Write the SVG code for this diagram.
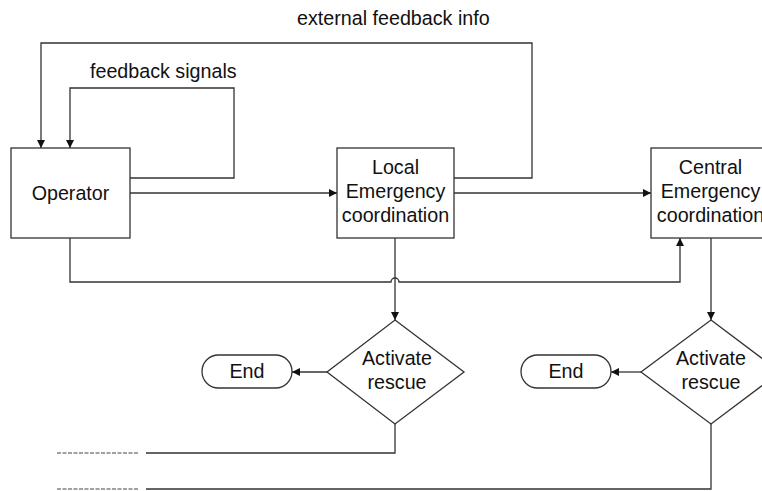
<svg xmlns="http://www.w3.org/2000/svg" width="762" height="491" viewBox="0 0 762 491">
<style>
.s{fill:#fff;stroke:#333;stroke-width:1.3}
.c{fill:none;stroke:#333;stroke-width:1.3}
.d{fill:none;stroke:#444;stroke-width:1.2;stroke-dasharray:4 1.5}
text{font-family:"Liberation Sans",Arial,sans-serif;font-size:19.7px;fill:#111;text-anchor:middle}
.l{text-anchor:start}
</style>
<defs>
<marker id="a" viewBox="0 0 10 10" refX="10" refY="5" markerWidth="8" markerHeight="8" markerUnits="userSpaceOnUse" orient="auto">
<path d="M0,0 L10,5 L0,10 z" fill="#111"/>
</marker>
</defs>
<g id="connectors">
<path class="c" d="M130,178 H234 V88 H70 V148" marker-end="url(#a)"/>
<path class="c" d="M454,178 H532 V43 H41 V148" marker-end="url(#a)"/>
<path class="c" d="M130,193 H337" marker-end="url(#a)"/>
<path class="c" d="M454,193 H651" marker-end="url(#a)"/>
<path class="c" d="M70,238 V282 H391 A4,4 0 0 1 399,282 H680 V238" marker-end="url(#a)"/>
<path class="c" d="M395,238 V320" marker-end="url(#a)"/>
<path class="c" d="M711,238 V320" marker-end="url(#a)"/>
<path class="c" d="M327,372 H292" marker-end="url(#a)"/>
<path class="c" d="M641,372 H611" marker-end="url(#a)"/>
<path class="c" d="M395,424 V453 H146"/>
<path class="c" d="M711,424 V489 H146"/>
<path class="d" d="M57,453 H138 M57,489 H138"/>
</g>
<text class="l" x="297" y="25">external feedback info</text>
<text class="l" x="90" y="78">feedback signals</text>
<g id="operator">
<rect class="s" x="11" y="148" width="119" height="90"/>
<text x="70.5" y="200">Operator</text>
</g>
<g id="local">
<rect class="s" x="337" y="148" width="117" height="90"/>
<text x="395.5" y="174">Local</text>
<text x="395.5" y="198">Emergency</text>
<text x="395.5" y="222">coordination</text>
</g>
<g id="central">
<rect class="s" x="651" y="148" width="119" height="90"/>
<text x="710.5" y="174">Central</text>
<text x="710.5" y="198">Emergency</text>
<text x="710.5" y="222">coordination</text>
</g>
<g id="rescue1">
<path class="s" d="M395,320 L464,372 L395,424 L327,372 z"/>
<text x="397" y="365">Activate</text>
<text x="397" y="389">rescue</text>
</g>
<g id="rescue2">
<path class="s" d="M711,320 L780,372 L711,424 L641,372 z"/>
<text x="711" y="365">Activate</text>
<text x="711" y="389">rescue</text>
</g>
<g id="end1">
<rect class="s" x="202" y="355" width="90" height="33" rx="16.5"/>
<text x="247" y="378">End</text>
</g>
<g id="end2">
<rect class="s" x="521" y="355" width="90" height="33" rx="16.5"/>
<text x="566" y="378">End</text>
</g>
</svg>
